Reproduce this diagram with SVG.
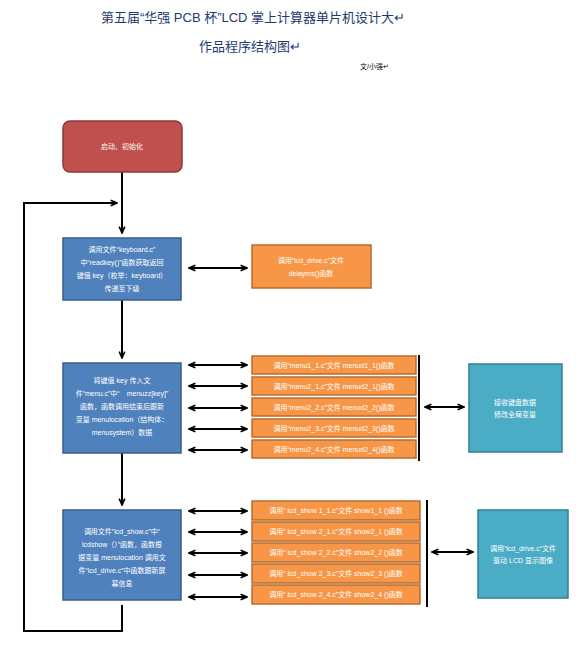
<svg xmlns="http://www.w3.org/2000/svg" width="583" height="658" viewBox="0 0 583 658">
<defs>
<style>
.t{font-family:"Liberation Sans","Noto Sans CJK SC",sans-serif;}
.title{font-size:13px;fill:#1f3a6e;text-anchor:middle;}
.lbl{font-size:7px;fill:#ffffff;text-anchor:middle;}
.red{fill:#c0504d;stroke:#8c3836;stroke-width:1.5;}
.blue{fill:#4f81bd;stroke:#385d8a;stroke-width:1.5;}
.orange{fill:#f79646;stroke:#b66d31;stroke-width:1.5;}
.teal{fill:#4bacc6;stroke:#357d91;stroke-width:1.5;}
.ln{stroke:#000;stroke-width:2;fill:none;}
.ar{marker-end:url(#ah);}
.dar{marker-end:url(#ah);marker-start:url(#ah);}
</style>
<marker id="ah" viewBox="0 0 10 10" refX="9" refY="5" markerWidth="8" markerHeight="8" orient="auto-start-reverse" markerUnits="userSpaceOnUse">
<path d="M1,1.5 L9,5 L1,8.5" fill="none" stroke="#000" stroke-width="2"/>
</marker>
</defs>
<rect width="583" height="658" fill="#ffffff"/>

<g id="title" class="t">
<text class="t title" x="253" y="22">第五届“华强 PCB 杯”LCD 掌上计算器单片机设计大↵</text>
<text class="t title" x="250" y="51">作品程序结构图↵</text>
<text class="t" x="360" y="69" font-size="7" fill="#000">文/小强↵</text>
</g>

<g id="connectors">
<path class="ln ar" d="M122,172 V233"/>
<path class="ln ar" d="M122,300 V358"/>
<path class="ln ar" d="M122,453 V505"/>
<path class="ln ar" d="M122,605 V631 H24 V203 H117"/>
<path class="ln dar" d="M189,268 H247"/>
<path class="ln dar" d="M189,365 H247"/>
<path class="ln dar" d="M189,386 H247"/>
<path class="ln dar" d="M189,408 H247"/>
<path class="ln dar" d="M189,429 H247"/>
<path class="ln dar" d="M189,450 H247"/>
<path class="ln dar" d="M189,511 H247"/>
<path class="ln dar" d="M189,532 H247"/>
<path class="ln dar" d="M189,553 H247"/>
<path class="ln dar" d="M189,575 H247"/>
<path class="ln dar" d="M189,597 H247"/>
<path class="ln" d="M419,355 V461"/>
<path class="ln dar" d="M425,407 H464"/>
<path class="ln" d="M427,500 V607"/>
<path class="ln dar" d="M432,552 H473"/>
</g>

<g id="n_start">
<rect class="red" x="63" y="121" width="119" height="51" rx="7"/>
<text class="t lbl" x="122" y="149">启动、初始化</text>
</g>

<g id="n_keyboard">
<rect class="blue" x="63" y="238" width="118" height="62"/>
<text class="t lbl" x="122" y="252">调用文件“keyboard.c”</text>
<text class="t lbl" x="122" y="265">中“readkey()”函数获取返回</text>
<text class="t lbl" x="122" y="278">键值 key（枚举：keyboard）</text>
<text class="t lbl" x="122" y="291">传递至下级</text>
</g>

<g id="n_delay">
<rect class="orange" x="252" y="245" width="119" height="43"/>
<text class="t lbl" x="311" y="263">调用“lcd_drive.c”文件</text>
<text class="t lbl" x="311" y="276">delayms()函数</text>
</g>

<g id="n_menu">
<rect class="blue" x="63" y="363" width="118" height="90"/>
<text class="t lbl" x="122" y="383">将键值 key 传入文</text>
<text class="t lbl" x="122" y="396">件“menu.c”中“　menuzz[key]”</text>
<text class="t lbl" x="122" y="409">函数，函数调用结束后跟新</text>
<text class="t lbl" x="122" y="422">变量 menulocation（结构体：</text>
<text class="t lbl" x="122" y="435">menusystem）数据</text>
</g>

<g id="n_m11"><rect class="orange" x="252" y="356" width="164" height="18"/><text class="t lbl" x="334" y="368">调用“menu1_1.c”文件 menud1_1()函数</text></g>
<g id="n_m21"><rect class="orange" x="252" y="377" width="164" height="18"/><text class="t lbl" x="334" y="389">调用“menu2_1.c”文件 menud2_1()函数</text></g>
<g id="n_m22"><rect class="orange" x="252" y="398" width="164" height="18"/><text class="t lbl" x="334" y="410">调用“menu2_2.c”文件 menud2_2()函数</text></g>
<g id="n_m23"><rect class="orange" x="252" y="419" width="164" height="18"/><text class="t lbl" x="334" y="431">调用“menu2_3.c”文件 menud2_3()函数</text></g>
<g id="n_m24"><rect class="orange" x="252" y="440" width="164" height="18"/><text class="t lbl" x="334" y="452">调用“menu2_4.c”文件 menud2_4()函数</text></g>

<g id="n_recv">
<rect class="teal" x="469" y="364" width="93" height="88"/>
<text class="t lbl" x="515" y="405">接收键盘数据</text>
<text class="t lbl" x="515" y="417">修改全局变量</text>
</g>

<g id="n_show">
<rect class="blue" x="63" y="510" width="118" height="90"/>
<text class="t lbl" x="122" y="534">调用文件“lcd_show.c”中“</text>
<text class="t lbl" x="122" y="547">lcdshow（）”函数，函数根</text>
<text class="t lbl" x="122" y="560">据变量 menulocation 调用文</text>
<text class="t lbl" x="122" y="573">件“lcd_drive.c”中函数跟新屏</text>
<text class="t lbl" x="122" y="586">幕信息</text>
</g>

<g id="n_s11"><rect class="orange" x="252" y="501" width="168" height="19"/><text class="t lbl" x="336" y="513">调用“ lcd_show 1_1.c”文件 show1_1 ()函数</text></g>
<g id="n_s21"><rect class="orange" x="252" y="522" width="168" height="19"/><text class="t lbl" x="336" y="534">调用“ lcd_show 2_1.c”文件 show2_1 ()函数</text></g>
<g id="n_s22"><rect class="orange" x="252" y="543" width="168" height="19"/><text class="t lbl" x="336" y="555">调用“ lcd_show 2_2.c”文件 show2_2 ()函数</text></g>
<g id="n_s23"><rect class="orange" x="252" y="564" width="168" height="19"/><text class="t lbl" x="336" y="576">调用“ lcd_show 2_3.c”文件 show2_3 ()函数</text></g>
<g id="n_s24"><rect class="orange" x="252" y="585" width="168" height="19"/><text class="t lbl" x="336" y="597">调用“ lcd_show 2_4.c”文件 show2_4 ()函数</text></g>

<g id="n_lcd">
<rect class="teal" x="478" y="510" width="90" height="88"/>
<text class="t lbl" x="523" y="551">调用“lcd_drive.c”文件</text>
<text class="t lbl" x="523" y="563">驱动 LCD 显示图像</text>
</g>
</svg>
